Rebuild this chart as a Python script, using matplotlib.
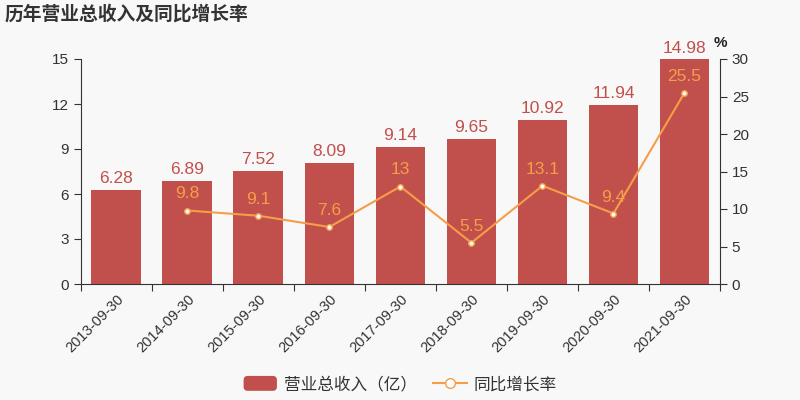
import matplotlib
matplotlib.use("Agg")
import matplotlib.pyplot as plt
import numpy as np
from matplotlib.patches import FancyBboxPatch, Patch
from matplotlib.lines import Line2D
from matplotlib.legend_handler import HandlerPatch

plt.rcParams['font.family'] = ['Liberation Sans', 'Noto Sans CJK SC', 'DejaVu Sans']

categories = ["2013-09-30", "2014-09-30", "2015-09-30", "2016-09-30", "2017-09-30",
              "2018-09-30", "2019-09-30", "2020-09-30", "2021-09-30"]
revenue = [6.28, 6.89, 7.52, 8.09, 9.14, 9.65, 10.92, 11.94, 14.98]
growth = [np.nan, 9.8, 9.1, 7.6, 13.0, 5.5, 13.1, 9.4, 25.5]
growth_labels = ["", "9.8", "9.1", "7.6", "13", "5.5", "13.1", "9.4", "25.5"]

bg = "#f8f8f8"
bar_color = "#c1504d"
line_color = "#f59e48"
axis_color = "#333333"

fig = plt.figure(figsize=(8, 4), dpi=100, facecolor=bg)
ax = fig.add_axes([0.101, 0.29, 0.799, 0.5625])
ax.set_facecolor(bg)
x = np.arange(len(categories))
ax.bar(x, revenue, width=0.7, color=bar_color, zorder=2)
for xi, v in zip(x, revenue):
    ax.text(xi, v + 0.25, f"{v:.2f}", ha="center", va="bottom", color=bar_color, fontsize=12.5)
ax.set_ylim(0, 15)
ax.set_yticks([0, 3, 6, 9, 12, 15])
ax.set_xlim(-0.5, len(categories) - 0.5)
ax.set_xticks(np.arange(-0.5, len(categories), 1), minor=False)
ax.set_xticklabels([])
ax.set_xticks(x, minor=True)
ax.set_xticklabels(categories, minor=True, rotation=45, ha="right", rotation_mode="anchor",
                   fontsize=10.5, color=axis_color)
ax.tick_params(axis="x", which="minor", length=0, pad=6)
ax.tick_params(axis="x", which="major", length=5, color=axis_color)
ax.tick_params(axis="y", length=5, color=axis_color, labelcolor=axis_color, labelsize=11)
for s in ["top", "right"]:
    ax.spines[s].set_visible(False)
ax.spines["left"].set_color(axis_color)
ax.spines["bottom"].set_color(axis_color)

ax2 = ax.twinx()
ax2.plot(x, growth, color=line_color, lw=1.5, marker="o", markersize=4,
         markerfacecolor="white", markeredgecolor=line_color, markeredgewidth=1, zorder=3)
for xi, g, lab in zip(x, growth, growth_labels):
    if lab:
        ax2.text(xi, g + 1.2, lab, ha="center", va="bottom", color=line_color, fontsize=12.5)
ax2.set_ylim(0, 30)
ax2.set_yticks([0, 5, 10, 15, 20, 25, 30])
ax2.tick_params(axis="y", length=5, color=axis_color, labelcolor=axis_color, labelsize=11)
for s in ["top", "left", "bottom"]:
    ax2.spines[s].set_visible(False)
ax2.spines["right"].set_color(axis_color)
ax2.text(1.0, 1.04, "%", transform=ax2.transAxes, ha="center", va="bottom", fontsize=11,
         fontweight="bold", color="#222222")

fig.text(0.006, 0.965, "历年营业总收入及同比增长率", fontsize=13.5, fontweight="bold",
         color="#333333", ha="left", va="center")


class RoundHandler(HandlerPatch):
    def create_artists(self, legend, orig_handle, xdescent, ydescent, width, height, fontsize, trans):
        p = FancyBboxPatch((-xdescent, -ydescent), width, height,
                           boxstyle="round,pad=0,rounding_size=3",
                           facecolor=orig_handle.get_facecolor(), edgecolor="none",
                           transform=trans)
        return [p]


bar_handle = Patch(facecolor=bar_color, label="营业总收入（亿）")
line_handle = Line2D([0], [0], color=line_color, lw=1.5, marker="o", markersize=7,
                     markerfacecolor="white", markeredgecolor=line_color, label="同比增长率")
fig.legend(handles=[bar_handle, line_handle], loc="center", bbox_to_anchor=(0.5, 0.04), ncol=2,
           frameon=False, fontsize=12, handlelength=2.0, handleheight=1.0, columnspacing=1.0,
           handletextpad=0.4, labelcolor="#333333",
           handler_map={Patch: RoundHandler()})

fig.savefig("out.png", dpi=100, facecolor=bg)
